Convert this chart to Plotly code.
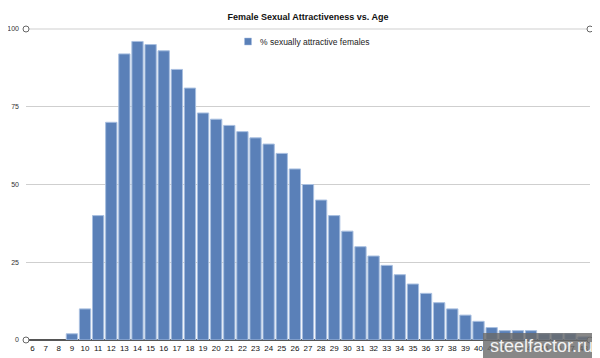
import plotly.graph_objects as go

ages = list(range(6, 49))
values = [0, 0, 0, 2, 10, 40, 70, 92, 96, 95, 93, 87, 81, 73, 71, 69, 67, 65, 63, 60,
          55, 50, 45, 40, 35, 30, 27, 24, 21, 18, 15, 12, 10, 8, 6, 4, 3, 3, 3, 2,
          2, 2, 1]
y_ticks = [0, 25, 50, 75, 100]
series_name = "% sexually attractive females"
title = "Female Sexual Attractiveness vs. Age"

BAR = "#5a80b8"
EDGE = "#a8bfe0"

# the page has an 8px body margin; lay out the figure so it fills the window
OFF = 8
W, H = 600 - OFF, 358 - OFF
# plot area in window pixels: x 26..590, y 29..340
L, R, T, B = 26 - OFF, 600 - 590, 29 - OFF, 358 - 340
PW, PH = W - L - R, H - T - B


def px(xw):  # window x -> paper
    return (xw - OFF - L) / PW


def py(yw):  # window y -> paper
    return (H - B - (yw - OFF)) / PH


fig = go.Figure()
fig.add_trace(go.Bar(
    x=ages, y=values, name=series_name,
    marker=dict(color=BAR,
                line=dict(color=EDGE, width=[0 if v == 0 else 1 for v in values])),
    showlegend=False,
))

fig.update_layout(
    width=W, height=H,
    margin=dict(l=L, r=R, t=T, b=B, autoexpand=False),
    paper_bgcolor="white", plot_bgcolor="white",
    bargap=0.14,
    font=dict(family="Liberation Sans, Arial, sans-serif", size=8, color="#222"),
    title=dict(text="<b>" + title + "</b>", x=0.5, xref="paper", xanchor="center",
               y=1 - (17 - OFF) / H, yanchor="middle", font=dict(size=9, color="#111")),
    showlegend=False,
    xaxis=dict(range=[5.5, 48.5], tickmode="array", tickvals=ages,
               ticktext=[str(a) for a in ages], showgrid=False, showline=False,
               zeroline=False, ticks="", tickfont=dict(size=8, color="#111"),
               ticklabelstandoff=2, automargin=False, fixedrange=True),
    yaxis=dict(range=[0, 100], tickmode="array", tickvals=y_ticks,
               ticktext=[str(t) for t in y_ticks], showgrid=True,
               gridcolor="#cfcfcf", gridwidth=1, zeroline=True,
               zerolinecolor="#555", zerolinewidth=1.5, showline=False,
               ticks="", tickfont=dict(size=7, color="#333"),
               ticklabelstandoff=6, automargin=False),
)

# top gridline (at 100)
fig.add_shape(type="line", xref="paper", yref="paper", x0=0, x1=1, y0=1, y1=1,
              line=dict(color="#cfcfcf", width=1))

# end-circles on gridlines
for (ax, ay) in [(0, 1), (1, 1), (0, 0), (1, 0)]:
    fig.add_shape(type="circle", xref="paper", yref="paper",
                  xsizemode="pixel", ysizemode="pixel",
                  xanchor=ax, yanchor=ay, x0=-3, x1=3, y0=-3, y1=3,
                  line=dict(color="#666", width=1), fillcolor="white")

# legend (drawn manually)
fig.add_shape(type="rect", xref="paper", yref="paper",
              xsizemode="pixel", ysizemode="pixel", xanchor=px(248), yanchor=py(41.5),
              x0=-3.5, x1=3.5, y0=-3.5, y1=3.5,
              line=dict(color=EDGE, width=0.5), fillcolor=BAR)
fig.add_annotation(text=series_name, xref="paper", yref="paper",
                   x=px(258), xanchor="left", y=py(41.5), yanchor="middle",
                   showarrow=False, font=dict(size=8.5, color="#222"))

# watermark
fig.add_shape(type="rect", xref="paper", yref="paper",
              x0=px(483), x1=px(600), y0=py(358), y1=py(333),
              line=dict(width=0), fillcolor="rgba(105,105,105,0.8)")
fig.add_annotation(text="steelfactor.ru", xref="paper", yref="paper",
                   x=px(541), xanchor="center", y=py(345.5),
                   yanchor="middle", showarrow=False,
                   font=dict(size=18, color="#f2f2f2", family="Liberation Sans, Arial"))

fig.write_html("out.html")
